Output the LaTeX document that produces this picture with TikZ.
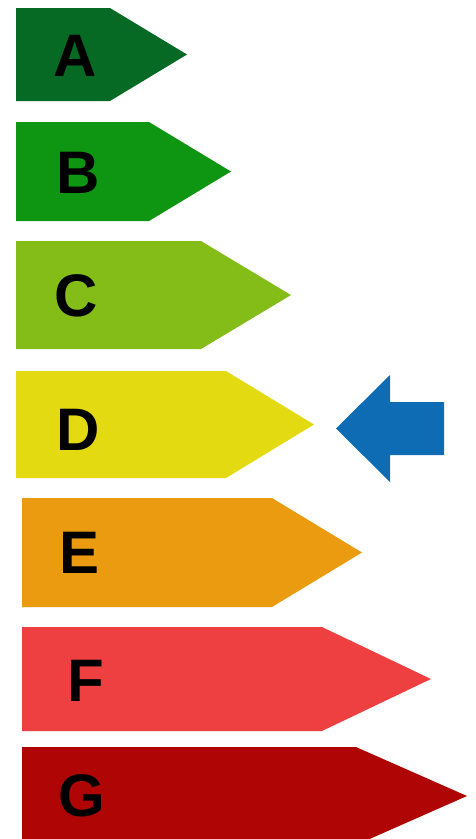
\documentclass[tikz,border=0pt]{standalone}
\usepackage{fontspec}
\setmainfont{Liberation Sans}
\definecolor{cA}{HTML}{076A24}
\definecolor{cB}{HTML}{0E9612}
\definecolor{cC}{HTML}{84BD18}
\definecolor{cD}{HTML}{E3DA12}
\definecolor{cE}{HTML}{EA9B0F}
\definecolor{cF}{HTML}{EE4040}
\definecolor{cG}{HTML}{B00505}
\definecolor{cBlue}{HTML}{0E6CB4}
\tikzset{
  letter/.style={inner sep=0pt, anchor=base, font=\fontsize{60}{60}\selectfont\bfseries, text=black},
}
\begin{document}
\begin{tikzpicture}[x=1pt,y=-1pt]
\useasboundingbox (0,0) rectangle (476,839);
% bars: left, top, bottom, rect right, tip x
\fill[cA] (16,8) -- (110,8) -- (187,54.5) -- (110,101) -- (16,101) -- cycle;
\fill[cB] (16,122) -- (149,122) -- (231,171.5) -- (149,221) -- (16,221) -- cycle;
\fill[cC] (16,241) -- (201,241) -- (291,295) -- (201,349) -- (16,349) -- cycle;
\fill[cD] (16,371) -- (226,371) -- (314,424.5) -- (226,478) -- (16,478) -- cycle;
\fill[cE] (22,498) -- (272,498) -- (362,552.5) -- (272,607) -- (22,607) -- cycle;
\fill[cF] (22,627) -- (322,627) -- (431,679) -- (322,731) -- (22,731) -- cycle;
\fill[cG] (22,747) -- (356,747) -- (467,796) -- (356,845) -- (22,845) -- cycle;
% letters
\node[letter] (lA) at (75,76) {A};
\node[letter] (lB) at (78,193) {B};
\node[letter] (lC) at (76,316) {C};
\node[letter] (lD) at (78,450) {D};
\node[letter] (lE) at (80,573) {E};
\node[letter] (lF) at (86,701) {F};
\node[letter] (lG) at (82,816) {G};
% blue indicator arrow
\fill[cBlue] (336,428.5) -- (390,375) -- (390,402) -- (444,402) -- (444,455) -- (390,455) -- (390,482) -- cycle;
\end{tikzpicture}
\end{document}
